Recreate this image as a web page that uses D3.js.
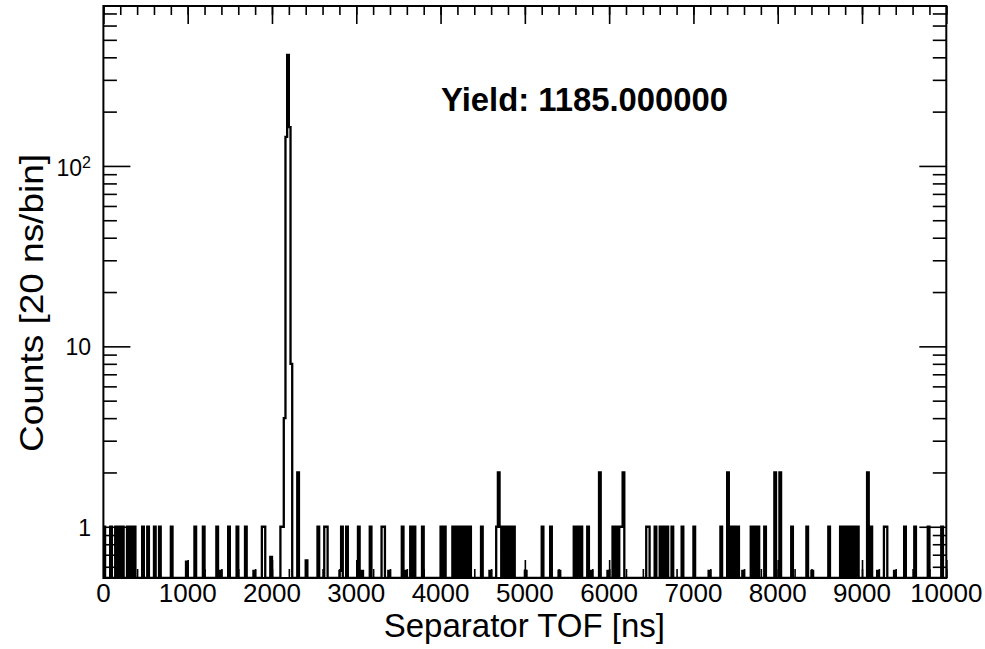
<!DOCTYPE html>
<html>
<head>
<meta charset="utf-8">
<script src="https://cdn.jsdelivr.net/npm/d3@7"></script>
<style>
  body { margin: 0; background: #fff; }
  text { font-family: "Liberation Sans", Arial, Helvetica, sans-serif; fill: #000; }
</style>
</head>
<body>
<div id="chart"></div>
<script>
// histogram values (bin start in ns)
const binWidth = 20
const xMax = 10000
const singleBins = [0, 80, 140, 180, 220, 280, 320, 360, 460, 520, 600, 660, 800, 1080, 1180, 1340, 1480, 1580, 1680,
    1880, 1900, 2100, 2120, 2540, 2620, 2640, 2820, 2880, 3020, 3160, 3300, 3320, 3540, 3640, 3680, 3780, 4000, 4040,
    4140, 4180, 4220, 4260, 4300, 4340, 4480, 4660, 4700, 4740, 4780, 4820, 4860, 5200, 5300, 5580, 5620, 5660, 5740,
    6040, 6080, 6120, 6140, 6440, 6460, 6540, 6600, 6640, 6680, 6740, 6860, 7000, 7320, 7440, 7480, 7520, 7680, 7720,
    7760, 7840, 8160, 8340, 8600, 8740, 8780, 8820, 8860, 8900, 8940, 9100, 9260, 9280, 9500, 9620, 9780, 9940]
const doubleBins = [2300, 4680, 5880, 6160, 7400, 7960, 8020, 9060]
const peakBins = [2140, 2160, 2180, 2200, 2220]
const peakCounts = [4, 145, 413, 164, 8]
// short stubs near the bottom edge
const stubBins = [980, 1380, 1780, 1980, 2400, 2800, 3060, 3380, 3580, 4580, 5000, 5400, 5780, 5980, 7180, 7580, 8400, 9180, 9380]
const stubCounts = [0.64, 0.57, 0.57, 0.68, 0.65, 0.57, 0.57, 0.57, 0.57, 0.57, 0.57, 0.57, 0.57, 0.57, 0.57, 0.57, 0.57, 0.57, 0.57]

const xTicks = [0, 1000, 2000, 3000, 4000, 5000, 6000, 7000, 8000, 9000, 10000]
const yMajor = [1, 10, 100]
const yMinor = [0.6, 0.7, 0.8, 0.9, 2, 3, 4, 5, 6, 7, 8, 9, 20, 30, 40, 50, 60, 70, 80, 90, 200, 300, 400, 500, 600, 700]
const yieldText = "Yield: 1185.000000"

const nBins = xMax / binWidth
const counts = new Array(nBins).fill(0)
singleBins.forEach(b => counts[b / binWidth] = 1)
doubleBins.forEach(b => counts[b / binWidth] = 2)
peakBins.forEach((b, i) => counts[b / binWidth] = peakCounts[i])
stubBins.forEach((b, i) => counts[b / binWidth] = stubCounts[i])

const W = 985, H = 649
const frame = { left: 103.4, right: 946.3, top: 6, bottom: 578 }

const svg = d3.select("#chart").append("svg")
    .attr("width", W)
    .attr("height", H)

const x = d3.scaleLinear().domain([0, xMax]).range([frame.left, frame.right])
const y = d3.scaleLog().domain([0.52, 770]).range([frame.bottom, frame.top])

svg.append("clipPath").attr("id", "clip")
    .append("rect")
    .attr("x", frame.left).attr("y", frame.top)
    .attr("width", frame.right - frame.left).attr("height", frame.bottom - frame.top)

// step outline, empty bins drop to the bottom of the frame
const pts = [[x(0), frame.bottom]]
counts.forEach((c, i) => pts.push([x(i * binWidth), c > 0 ? y(c) : frame.bottom]))
pts.push([x(xMax), counts[nBins - 1] > 0 ? y(counts[nBins - 1]) : frame.bottom])
pts.push([x(xMax), frame.bottom])

svg.append("path")
    .attr("clip-path", "url(#clip)")
    .attr("d", d3.line().curve(d3.curveStepAfter)(pts))
    .attr("fill", "none")
    .attr("stroke", "#000")
    .attr("stroke-width", 2.3)

// axes, ticks pointing inside on all four sides
function styleAxis(g) {
    g.select(".domain").remove()
    g.selectAll("line").attr("stroke", "#000").attr("stroke-width", 1.6)
}
const xMinor = d3.range(0, xMax + 1, 200)
svg.append("g").attr("transform", `translate(0,${frame.bottom})`)
    .call(d3.axisBottom(x).tickValues(xTicks).tickSize(-18).tickFormat("")).call(styleAxis)
svg.append("g").attr("transform", `translate(0,${frame.bottom})`)
    .call(d3.axisBottom(x).tickValues(xMinor).tickSize(-9).tickFormat("")).call(styleAxis)
svg.append("g").attr("transform", `translate(0,${frame.top})`)
    .call(d3.axisTop(x).tickValues(xTicks).tickSize(-18).tickFormat("")).call(styleAxis)
svg.append("g").attr("transform", `translate(0,${frame.top})`)
    .call(d3.axisTop(x).tickValues(xMinor).tickSize(-9).tickFormat("")).call(styleAxis)

svg.append("g").attr("transform", `translate(${frame.left},0)`)
    .call(d3.axisLeft(y).tickValues(yMajor).tickSize(-27).tickFormat("")).call(styleAxis)
svg.append("g").attr("transform", `translate(${frame.left},0)`)
    .call(d3.axisLeft(y).tickValues(yMinor).tickSize(-13.5).tickFormat("")).call(styleAxis)
svg.append("g").attr("transform", `translate(${frame.right},0)`)
    .call(d3.axisRight(y).tickValues(yMajor).tickSize(-27).tickFormat("")).call(styleAxis)
svg.append("g").attr("transform", `translate(${frame.right},0)`)
    .call(d3.axisRight(y).tickValues(yMinor).tickSize(-13.5).tickFormat("")).call(styleAxis)

svg.append("rect")
    .attr("x", frame.left).attr("y", frame.top)
    .attr("width", frame.right - frame.left).attr("height", frame.bottom - frame.top)
    .attr("fill", "none").attr("stroke", "#000").attr("stroke-width", 2)

// tick labels
svg.append("g").selectAll("text")
    .data(xTicks)
    .join("text")
    .attr("x", d => x(d))
    .attr("y", 602)
    .attr("text-anchor", "middle")
    .attr("font-size", 26)
    .text(d => d)

const yLab = svg.append("g").selectAll("text")
    .data(yMajor)
    .join("text")
    .attr("x", 91)
    .attr("y", d => y(d) + (d === 100 ? 10 : 9))
    .attr("text-anchor", "end")
    .attr("font-size", 23)
yLab.filter(d => d < 100).text(d => d)
yLab.filter(d => d === 100).each(function () {
    const t = d3.select(this)
    t.append("tspan").text("10")
    t.append("tspan").attr("font-size", 16).attr("dy", -8).text("2")
})

// axis titles
svg.append("text")
    .attr("x", 665)
    .attr("y", 637)
    .attr("text-anchor", "end")
    .attr("font-size", 33)
    .text("Separator TOF [ns]")

svg.append("text")
    .attr("transform", "translate(43,452) rotate(-90)")
    .attr("font-size", 34)
    .attr("textLength", 298)
    .attr("lengthAdjust", "spacingAndGlyphs")
    .text("Counts [20 ns/bin]")

svg.append("text")
    .attr("x", 441)
    .attr("y", 111)
    .attr("font-size", 33)
    .attr("font-weight", "bold")
    .attr("textLength", 287)
    .attr("lengthAdjust", "spacingAndGlyphs")
    .text(yieldText)
</script>
</body>
</html>
